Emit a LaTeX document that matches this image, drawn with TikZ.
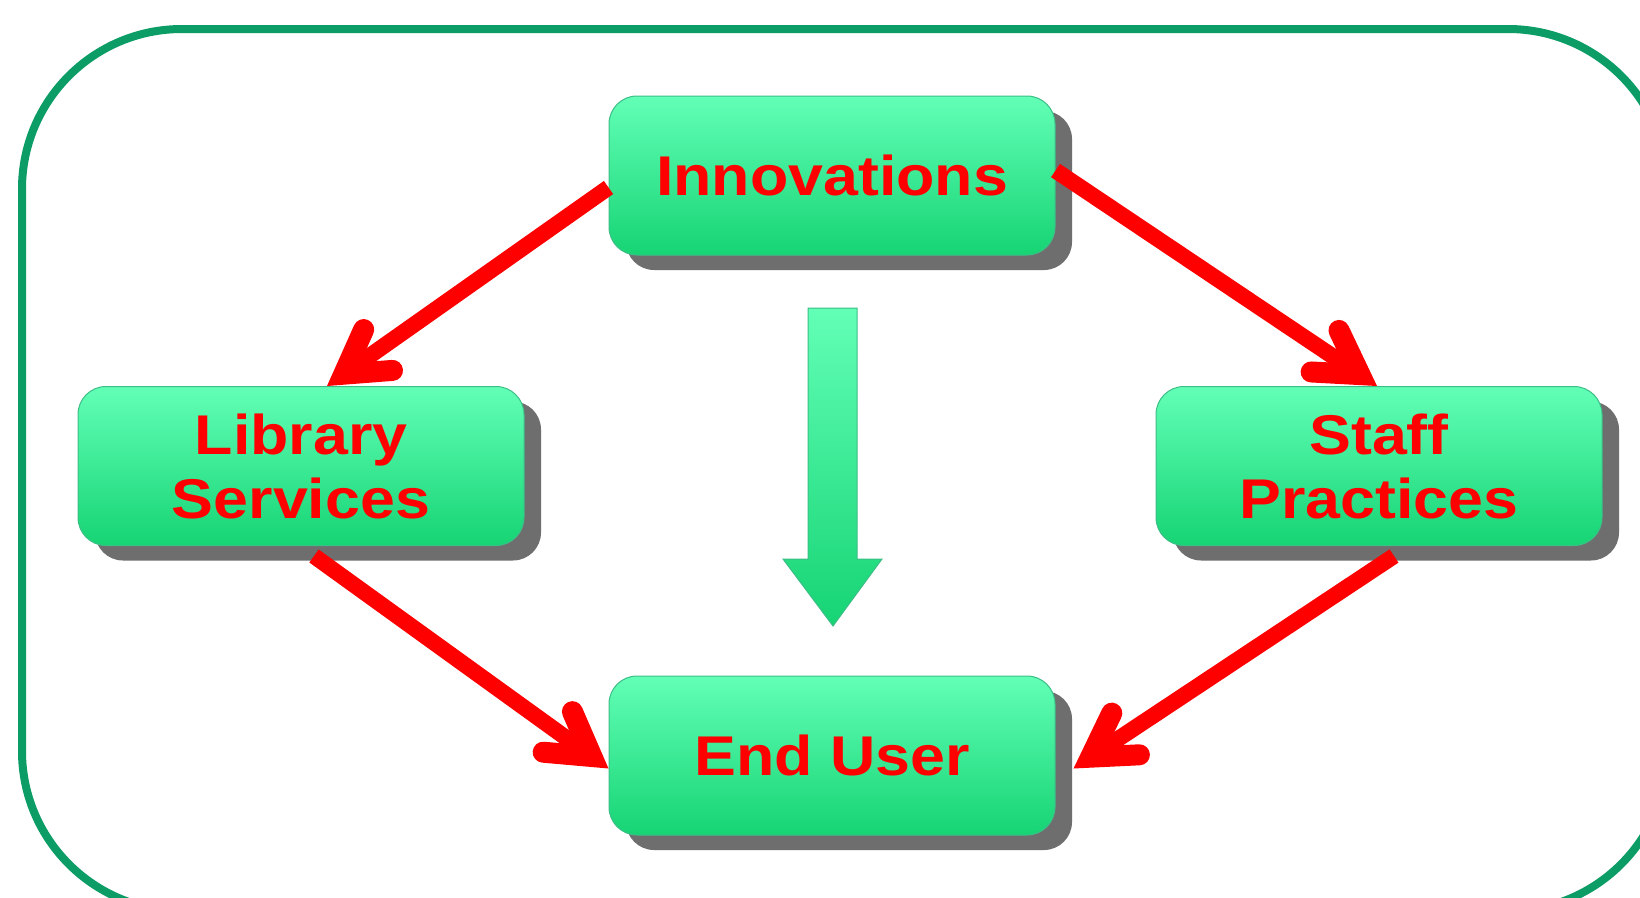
\documentclass[tikz,border=0pt]{standalone}
\usepackage{fontspec}
\usetikzlibrary{arrows.meta,shadows}
\newfontfamily\lblfont[FakeStretch=1.12]{Liberation Sans}
\definecolor{mintTop}{RGB}{98,255,182}
\definecolor{mintBot}{RGB}{22,212,116}
\definecolor{mintEdge}{RGB}{60,190,135}
\definecolor{frameGreen}{RGB}{12,156,102}
\definecolor{shadowGray}{RGB}{110,110,110}
\definecolor{lblRed}{RGB}{255,0,0}
\tikzset{
  box/.style={rectangle, rounded corners=28pt, minimum width=446pt, minimum height=159pt,
    top color=mintTop, bottom color=mintBot, draw=mintEdge, line width=1pt,
    text=lblRed, align=center, inner sep=0pt,
    font=\lblfont\bfseries\fontsize{56}{64}\selectfont,
    drop shadow={shadow xshift=17pt, shadow yshift=-15pt, fill=shadowGray, opacity=1, draw=none}},
  flow/.style={draw=lblRed, line width=16pt, line cap=butt,
    -{Straight Barb[length=42pt, width=50pt, line width=5pt 1, line join=miter, line cap=round]}},
  frame/.style={draw=frameGreen, line width=8pt, rounded corners=160pt},
  bigarrow/.style={top color=mintTop, bottom color=mintBot, draw=mintEdge, line width=1pt}
}
\begin{document}
\begin{tikzpicture}[x=1pt, y=-1pt]
  \useasboundingbox (0,0) rectangle (1640,897);
  \clip (0,0) rectangle (1640,897);
  \fill[white] (0,0) rectangle (1640,897);

  % outer rounded frame, running past the right and lower edges
  \draw[frame] (22,29) rectangle (1668,911);

  % the four stages
  \node[box] (inn)   at (832,175.5) {Innovations};
  \node[box] (lib)   at (301,466)   {Library\\Services};
  \node[box] (staff) at (1379,466)  {Staff\\Practices};
  \node[box] (user)  at (832,755.5) {End User};

  % broad downward arrow between the top and bottom stages
  \draw[bigarrow] (808,308) -- (857,308) -- (857,559) -- (882,559) -- (833,626)
        -- (783,559) -- (808,559) -- cycle;

  % red connectors
  \draw[flow] ([yshift=-12pt]inn.west) -- ([xshift=26pt]lib.north);
  \draw[flow] ([yshift=5pt]inn.east) -- ([xshift=-2pt]staff.north);
  \draw[flow] ([xshift=13pt,yshift=-10pt]lib.south) -- ([yshift=-13pt]user.west);
  \draw[flow] ([xshift=15pt,yshift=-10pt]staff.south) -- ([xshift=18pt,yshift=-13pt]user.east);
\end{tikzpicture}
\end{document}
